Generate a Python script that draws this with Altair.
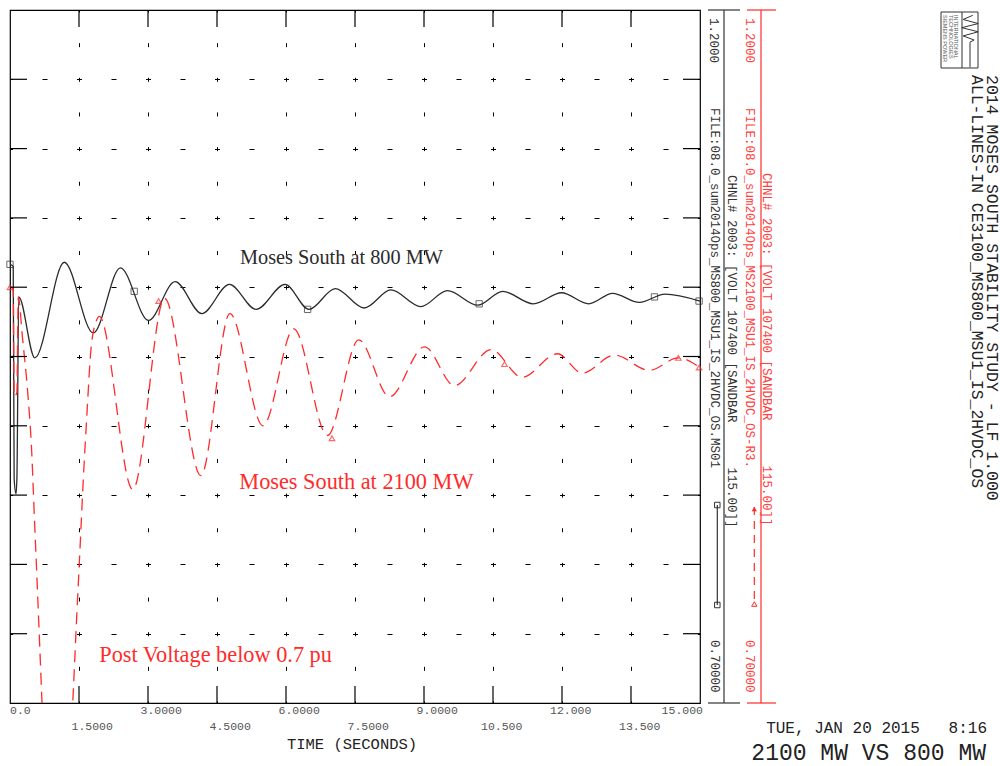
import altair as alt
import pandas as pd

# ---------------- data ----------------
# Moses South at 800 MW (black, solid)
black_t = [0.00, 0.07, 0.09, 0.13, 0.15, 0.19, 0.54, 1.18, 1.81, 2.40, 3.01, 3.59, 4.17, 4.77,
           5.35, 5.98, 6.50, 7.07, 7.70, 8.28, 8.93, 9.51, 10.17, 10.71, 11.38, 11.99, 12.58,
           13.10, 13.68, 14.24, 15.00]
black_v = [1.0165, 1.015, 0.862, 0.851, 0.862, 0.993, 0.949, 1.018, 0.967, 1.014, 0.976, 1.004,
           0.981, 1.002, 0.984, 1.002, 0.984, 0.999, 0.985, 0.998, 0.986, 0.9975, 0.987, 0.997,
           0.988, 0.996, 0.988, 0.9956, 0.989, 0.995, 0.990]

# Moses South at 2100 MW (red, dashed)
red_t = [0.00, 0.07, 0.09, 0.15, 0.18, 0.27, 0.38, 0.47, 0.53, 0.59, 0.65, 0.70, 1.03, 1.36,
         1.45, 1.52, 1.59, 1.67, 1.76, 1.88, 1.94, 2.67, 3.36, 4.15, 4.78, 5.50, 6.17, 6.90,
         7.58, 8.25, 9.01, 9.66, 10.46, 11.13, 11.90, 12.44, 13.14, 13.90, 14.53, 15.00]
red_v = [1.000, 0.999, 0.921, 0.924, 0.993, 0.964, 0.926, 0.8825, 0.834, 0.787, 0.738, 0.697,
         0.50, 0.697, 0.762, 0.810, 0.859, 0.907, 0.955, 0.976, 0.979, 0.854, 0.992, 0.864,
         0.981, 0.900, 0.970, 0.893, 0.962, 0.921, 0.957, 0.929, 0.955, 0.935, 0.952, 0.938,
         0.951, 0.940, 0.949, 0.942]

# channel symbols drawn on the curves
black_mark_t = [0.00, 2.70, 6.47, 10.20, 14.01, 14.98]
black_mark_v = [1.0165, 0.997, 0.984, 0.988, 0.993, 0.990]
red_mark_t = [0.00, 3.23, 7.00, 10.75, 14.53, 14.98]
red_mark_v = [1.000, 0.990, 0.891, 0.9445, 0.949, 0.942]

# axes
x_tick_values = [0.0, 1.5, 3.0, 4.5, 6.0, 7.5, 9.0, 10.5, 12.0, 13.5, 15.0]
x_tick_labels = ["0.0", "1.5000", "3.0000", "4.5000", "6.0000", "7.5000", "9.0000",
                 "10.500", "12.000", "13.500", "15.000"]
x_grid_values = [1.5, 3.0, 4.5, 6.0, 7.5, 9.0, 10.5, 12.0, 13.5]
y_grid_values = [0.75, 0.80, 0.85, 0.90, 0.95, 1.00, 1.05, 1.10, 1.15]

# annotations
black_note_t = [5.0]
black_note_v = [1.0167]
black_note_text = ["Moses South at 800 MW"]
red_note_t = [4.985, 1.94]
red_note_v = [0.8544, 0.7296]
red_note_text = ["Moses South at 2100 MW", "Post Voltage below 0.7 pu"]

NB = "\u00a0"
chnl_text = "CHNL# 2003: [VOLT 107400 [SANDBAR" + NB * 6 + "115.00]]"
file_black = "FILE:08.0_sum2014Ops_MS800_MSU1_IS_2HVDC_OS.MS01"
file_red = "FILE:08.0_sum2014Ops_MS2100_MSU1_IS_2HVDC_OS-R3."
title1 = "2014 MOSES SOUTH STABILITY STUDY - LF 1.000"
title2 = "ALL-LINES-IN CE3100_MS800_MSU1_IS_2HVDC_OS"
date_text = "TUE, JAN 20 2015" + NB * 3 + "8:16"
case_text = "2100 MW VS 800 MW"

# ---------------- styling ----------------
BLACK = "#2b2b2b"
RED = "#ff2b2b"
MONO = "Liberation Mono"
SERIF = "Liberation Serif"
W, H = 690, 693

xs = alt.Scale(domain=[0, 15], nice=False, zero=False)
ys = alt.Scale(domain=[0.7, 1.2], nice=False, zero=False)
xaxis = alt.Axis(values=x_grid_values, grid=True, gridDash=[4, 30.65], gridDashOffset=2,
                 gridColor="#000", gridWidth=1, gridOpacity=1, ticks=False, labels=False,
                 domain=False, title="")
yaxis = alt.Axis(values=y_grid_values, grid=True, gridDash=[5, 29.5], gridDashOffset=2.5,
                 gridColor="#000", gridWidth=1, gridOpacity=1, ticks=False, labels=False,
                 domain=False, title="")
X = alt.X("t:Q", scale=xs, axis=xaxis)
Y = alt.Y("v:Q", scale=ys, axis=yaxis)

black_df = pd.DataFrame({"t": black_t, "v": black_v})
red_df = pd.DataFrame({"t": red_t, "v": red_v})
bm_df = pd.DataFrame({"t": black_mark_t, "v": black_mark_v})
rm_df = pd.DataFrame({"t": red_mark_t, "v": red_mark_v})
xt_df = pd.DataFrame({"t": x_grid_values})
yt_df = pd.DataFrame({"v": y_grid_values})
lab_df = pd.DataFrame({"t": x_tick_values, "label": x_tick_labels,
                       "row": [i % 2 for i in range(len(x_tick_values))]})
bn_df = pd.DataFrame({"t": black_note_t, "v": black_note_v, "label": black_note_text})
rn_df = pd.DataFrame({"t": red_note_t, "v": red_note_v, "label": red_note_text})
one = pd.DataFrame({"k": [0]})

layers = []

# curves
layers.append(alt.Chart(black_df).mark_line(clip=True, interpolate="monotone", color=BLACK,
                                            strokeWidth=1.3).encode(x=X, y=Y))
layers.append(alt.Chart(red_df).mark_line(clip=True, interpolate="monotone", color=RED,
                                          strokeWidth=1.3, strokeDash=[12, 7]).encode(x=X, y=Y))
layers.append(alt.Chart(bm_df).mark_point(shape="square", filled=False, size=40, color=BLACK,
                                          strokeWidth=1).encode(x=X, y=Y))
layers.append(alt.Chart(rm_df).mark_point(shape="triangle-up", filled=False, size=30, color=RED,
                                          strokeWidth=1.2).encode(x=X, y=Y))

# inward major ticks on all four sides
TK = 17
layers.append(alt.Chart(yt_df).mark_rule(color="#000", strokeWidth=1.2).encode(
    y=Y, x=alt.value(0), x2=alt.value(TK)))
layers.append(alt.Chart(yt_df).mark_rule(color="#000", strokeWidth=1.2).encode(
    y=Y, x=alt.value(W - TK), x2=alt.value(W)))
layers.append(alt.Chart(xt_df).mark_rule(color="#000", strokeWidth=1.2).encode(
    x=X, y=alt.value(H - TK), y2=alt.value(H)))
layers.append(alt.Chart(xt_df).mark_rule(color="#000", strokeWidth=1.2).encode(
    x=X, y=alt.value(0), y2=alt.value(TK)))


# x tick labels (two staggered rows)
def tick_labels(flt, row_y, align, dx):
    return alt.Chart(lab_df).transform_filter(flt).mark_text(
        align=align, baseline="middle", dx=dx, font=MONO, fontSize=11.5, color="#555"
    ).encode(x=X, y=alt.value(row_y), text="label:N")


layers.append(tick_labels("datum.t == 0", H + 8, "left", 0))
layers.append(tick_labels("datum.row == 0 && datum.t > 0 && datum.t < 10", H + 8, "left", -7.5))
layers.append(tick_labels("datum.row == 1 && datum.t < 10", H + 24, "left", -7.5))
layers.append(tick_labels("datum.row == 0 && datum.t >= 10 && datum.t < 15", H + 8, "left", -12))
layers.append(tick_labels("datum.row == 1 && datum.t >= 10", H + 24, "left", -12))
layers.append(tick_labels("datum.t == 15", H + 8, "right", 3))

# annotations in the plot
layers.append(alt.Chart(bn_df).mark_text(align="left", baseline="alphabetic", font=SERIF,
                                         fontSize=20.3, color=BLACK).encode(x=X, y=Y, text="label:N"))
layers.append(alt.Chart(rn_df).mark_text(align="left", baseline="alphabetic", font=SERIF,
                                         fontSize=22.3, color=RED).encode(x=X, y=Y, text="label:N"))


# decorations placed in pixels
def ptext(txt, x, y, size, color, font=MONO, angle=0, align="left", baseline="middle"):
    kw = dict(align=align, baseline=baseline, font=font, fontSize=size, color=color)
    if angle:
        kw["angle"] = angle
    return alt.Chart(one).mark_text(**kw).encode(x=alt.value(x), y=alt.value(y),
                                                 text=alt.value(txt))


def hrule(x1, x2, y, color, width=1.2):
    return alt.Chart(one).mark_rule(color=color, strokeWidth=width).encode(
        x=alt.value(x1), x2=alt.value(x2), y=alt.value(y))


def vrule(x, y1, y2, color, width=1.2, dash=None):
    kw = dict(color=color, strokeWidth=width)
    if dash:
        kw["strokeDash"] = dash
    return alt.Chart(one).mark_rule(**kw).encode(
        x=alt.value(x), y=alt.value(y1), y2=alt.value(y2))


def ppoint(x, y, shape, color, size, filled=False, width=1):
    return alt.Chart(one).mark_point(shape=shape, filled=filled, size=size, color=color,
                                     strokeWidth=width, opacity=1).encode(
        x=alt.value(x), y=alt.value(y))


layers.append(ptext("TIME (SECONDS)", 342, H + 41, 15.5, "#222", align="center"))

# black channel scale
layers.append(vrule(714, 0, H, "#333"))
layers.append(hrule(698, 730, 0, "#333"))
layers.append(hrule(698, 730, H, "#333"))
layers.append(ptext("1.2000", 703.5, 8, 12.5, "#333", angle=90))
layers.append(ptext(file_black, 705, 98, 12.5, "#333", angle=90))
layers.append(ptext("0.70000", 705, 630, 12.5, "#333", angle=90))
layers.append(ptext(chnl_text, 721.5, 165, 12.5, "#333", angle=90))
layers.append(vrule(707.3, 495, 595, "#333", width=1.2))
layers.append(ppoint(707.3, 495, "square", "#333", 30))
layers.append(ppoint(707.3, 595, "square", "#333", 30))

# red channel scale
layers.append(vrule(751, 0, H, RED))
layers.append(hrule(737, 766, 0, RED))
layers.append(hrule(737, 766, H, RED))
layers.append(ptext("1.2000", 740, 8, 12.5, "#ff4040", angle=90))
layers.append(ptext(file_red, 740, 98, 12.5, "#ff4040", angle=90))
layers.append(ptext("0.70000", 740, 630, 12.5, "#ff4040", angle=90))
layers.append(ptext(chnl_text, 757, 163, 12.5, "#ff4040", angle=90))
layers.append(vrule(744.3, 497, 595, RED, width=1.2, dash=[8, 6]))
layers.append(ppoint(744.3, 499, "triangle-up", RED, 28, filled=True))
layers.append(ppoint(744.3, 594, "triangle-up", RED, 28))

# title block on the right
layers.append(ptext(title1, 982, 65, 16.5, "#222", angle=90))
layers.append(ptext(title2, 966.5, 65, 16.4, "#222", angle=90))

# logo
layers.append(alt.Chart(one).mark_rect(fill="white", stroke="#333", strokeWidth=1).encode(
    x=alt.value(931), x2=alt.value(968), y=alt.value(2), y2=alt.value(58)))
layers.append(vrule(952, 2, 58, "#333", width=1))
for i, line in enumerate(["SIEMENS POWER", "TECHNOLOGIES", "INTERNATIONAL"]):
    layers.append(ptext(line, 935 + i * 5.5, 5, 5.5, "#555", font="Liberation Sans", angle=90))
squiggle = ("M0.1,-0.9 L-0.25,-0.75 L0.3,-0.6 L-0.3,-0.45 L0.3,-0.3 L-0.25,-0.15 "
            "L0.15,0 L0,0.08 L0,1")
layers.append(alt.Chart(one).mark_point(shape=squiggle, filled=False, size=3000, color="#333",
                                        strokeWidth=1, opacity=1).encode(
    x=alt.value(960), y=alt.value(30)))

# date and case text
layers.append(ptext(date_text, 977, 718, 16, "#222", align="right"))
layers.append(ptext(case_text, 976, 749.5, 23, "#222", align="right", baseline="alphabetic"))

chart = alt.layer(*layers).properties(
    width=W, height=H,
    padding={"left": 10, "top": 10, "right": 1000 - 10 - W, "bottom": 766 - 10 - H},
    autosize=alt.AutoSizeParams(type="none"),
    background="white",
).configure_view(stroke="#000", strokeWidth=1.2)

chart.save("out.html", embed_options={"renderer": "svg", "actions": False})
